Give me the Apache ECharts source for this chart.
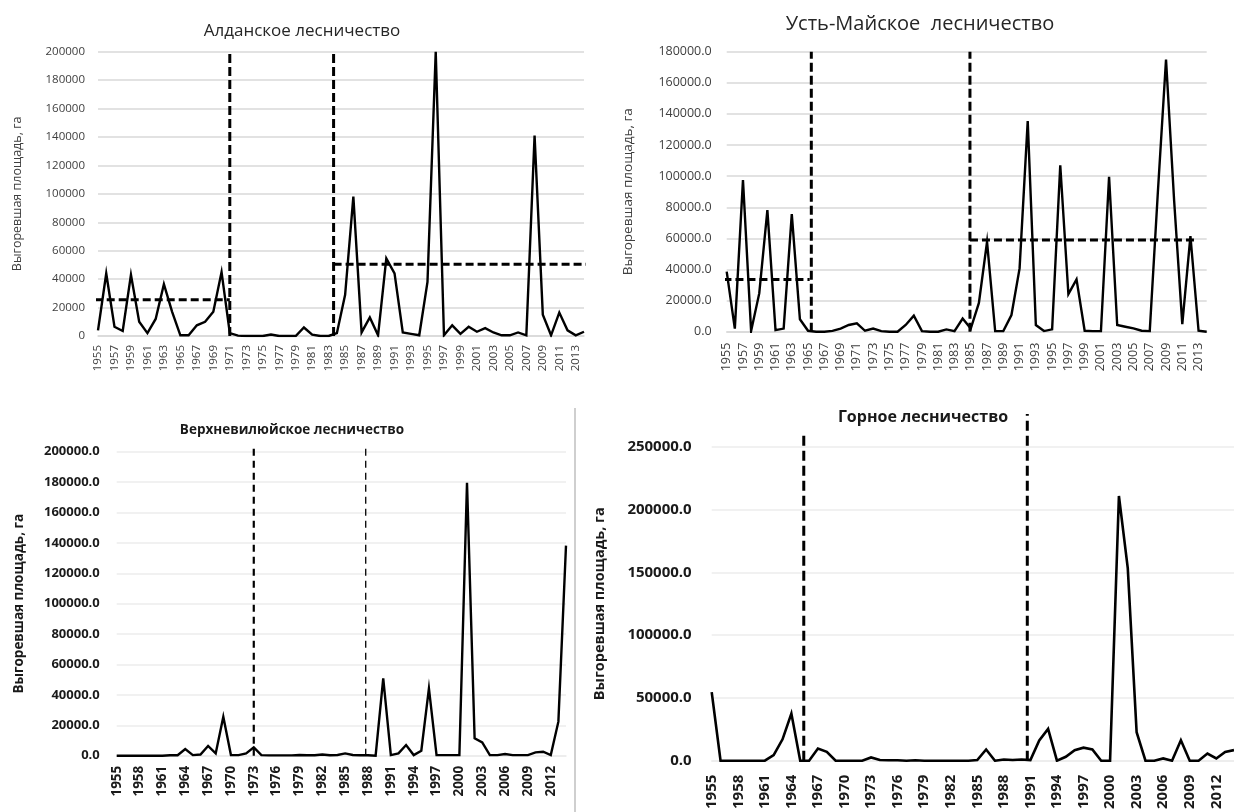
<!DOCTYPE html>
<html>
<head>
<meta charset="utf-8">
<script src="https://cdn.jsdelivr.net/npm/echarts@6/dist/echarts.min.js"></script>
<style>
  html, body { margin: 0; padding: 0; background: #ffffff; }
  #chart { width: 1234px; height: 812px; }
</style>
</head>
<body>
<div id="chart"></div>
<script>
// Years shared by all four forestries
const years = [
  '1955','1956','1957','1958','1959','1960','1961','1962','1963','1964',
  '1965','1966','1967','1968','1969','1970','1971','1972','1973','1974',
  '1975','1976','1977','1978','1979','1980','1981','1982','1983','1984',
  '1985','1986','1987','1988','1989','1990','1991','1992','1993','1994',
  '1995','1996','1997','1998','1999','2000','2001','2002','2003','2004',
  '2005','2006','2007','2008','2009','2010','2011','2012','2013','2014'
];

// Burned area, ha
const aldan = [
  4000, 44000, 6500, 3500, 43000, 10000, 2000, 12000, 36500, 17000,
  500, 500, 7500, 10000, 17000, 45000, 2000, 300, 0, 0,
  0, 1000, 0, 0, 0, 6000, 1000, 0, 0, 2000,
  29000, 98000, 2500, 13000, 500, 54600, 44000, 2500, 1500, 500,
  38000, 200000, 500, 7500, 1500, 6500, 3000, 5500, 2500, 500,
  500, 2500, 500, 141000, 15000, 500, 16500, 4000, 500, 3000
];
const ustMaya = [
  38600, 2000, 97500, 500, 24600, 78200, 1000, 2000, 75600, 8000,
  600, 0, 0, 500, 2000, 4300, 5400, 600, 2000, 400,
  0, 0, 4300, 10300, 400, 0, 0, 1500, 400, 8500,
  2000, 18500, 57800, 400, 400, 10700, 40700, 135400, 4300, 400,
  1500, 107000, 24200, 33600, 600, 400, 400, 99600, 4300, 3200,
  2100, 600, 400, 90000, 175000, 84000, 4900, 61500, 600, 0
];
const verkhneviluy = [
  0, 0, 0, 0, 0, 0, 0, 300, 300, 4400,
  400, 800, 6400, 1500, 25600, 400, 400, 1500, 5500, 400,
  200, 200, 200, 200, 500, 300, 300, 800, 300, 500,
  1500, 500, 300, 300, 0, 50900, 400, 1500, 7000, 400,
  3300, 44300, 400, 400, 400, 400, 179600, 11400, 8800, 400,
  400, 1100, 400, 400, 400, 2200, 2600, 400, 22400, 138200
];
const gornoe = [
  54600, 0, 0, 0, 0, 0, 0, 4400, 17000, 37600,
  0, 0, 9700, 7000, 0, 0, 0, 0, 2600, 500,
  300, 300, 0, 300, 0, 0, 0, 0, 0, 0,
  500, 8900, 0, 1000, 500, 1000, 500, 16200, 25300, 0,
  3100, 8400, 10400, 8900, 0, 0, 210800, 153300, 22700, 0,
  0, 1800, 0, 16200, 0, 0, 5700, 1800, 7000, 8400
];

// Period boundaries (year, upper end of the marker in ha)
const aldanBreaks = [[1971, 200000], [1983.6, 200000]];
const ustMayaBreaks = [[1965.4, 180000], [1984.9, 180000]];
const verkhBreaks = [[1973, 203000], [1987.7, 203000]];
const gornoeBreaks = [[1965.4, 259000], [1990.65, 276000]];

// Period means: [from year, to year, mean ha]
const aldanMeans = [[1954.6, 1971, 25500], [1983.6, 2015.1, 50500]];
const ustMayaMeans = [[1954.6, 1965.2, 33600], [1984.9, 2012.8, 58900]];

// Value axis ranges: [max, step]
const aldanAxis = [200000, 20000];
const ustMayaAxis = [180000, 20000];
const verkhAxis = [200000, 20000];
const gornoeAxis = [250000, 50000];

const FONT = 'Open Sans';
const chart = echarts.init(document.getElementById('chart'), null, { renderer: 'canvas' });

const panels = [
  { grid: { left: 98, top: 51.7, width: 486, height: 284.3 },
    data: aldan, breaks: aldanBreaks, means: aldanMeans, axis: aldanAxis,
    decimals: 0, bold: false, yFont: 11.5, xFont: 11.5, labelEvery: 1,
    gridColor: '#d9d9d9', yMargin: 13, xMargin: 9, nameGap: 74, nameFont: 12.5,
    lineW: 2.4, breakW: 3, breakDash: [9, 4], breakW2: 3, meanW: 3, meanDash: [8, 4],
    textColor: '#404040' },
  { grid: { left: 726.7, top: 51.7, width: 480, height: 280 },
    data: ustMaya, breaks: ustMayaBreaks, means: ustMayaMeans, axis: ustMayaAxis,
    decimals: 1, bold: false, yFont: 12.5, xFont: 12.5, labelEvery: 1,
    gridColor: '#d9d9d9', yMargin: 15, xMargin: 11, nameGap: 92, nameFont: 13.5,
    lineW: 2.4, breakW: 3, breakDash: [9, 4], breakW2: 3, meanW: 3, meanDash: [8, 4],
    textColor: '#404040' },
  { grid: { left: 116.7, top: 451.7, width: 449.3, height: 304 },
    data: verkhneviluy, breaks: verkhBreaks, means: [], axis: verkhAxis,
    decimals: 1, bold: true, yFont: 13, xFont: 13.5, labelEvery: 2,
    gridColor: '#ececec', yMargin: 17, xMargin: 10, nameGap: 91, nameFont: 13.5,
    lineW: 2.4, breakW: 2.2, breakDash: [7, 5], breakW2: 1.3, meanW: 2, meanDash: [7, 5],
    textColor: '#1a1a1a' },
  { grid: { left: 711.7, top: 446.7, width: 525.1, height: 319 },
    data: gornoe, breaks: gornoeBreaks, means: [], axis: gornoeAxis,
    decimals: 1, bold: true, yFont: 15, xFont: 15, labelEvery: 2,
    gridColor: '#ececec', yMargin: 20, xMargin: 14, nameGap: 104, nameFont: 14.5,
    lineW: 2.6, breakW: 3, breakDash: [10, 5], breakW2: 3, meanW: 3, meanDash: [10, 5],
    textColor: '#1a1a1a' }
];

const grids = [], xAxes = [], yAxes = [], series = [];

panels.forEach((p, i) => {
  grids.push(Object.assign({ containLabel: false }, p.grid));

  // category axis with year labels
  xAxes.push({
    type: 'category', gridIndex: i, data: years, boundaryGap: false,
    axisLine: { show: true, lineStyle: { color: p.gridColor, width: 1.5 } },
    axisTick: { show: false },
    axisLabel: {
      interval: p.labelEvery, rotate: 90, margin: p.xMargin,
      fontFamily: FONT, fontSize: p.xFont, color: p.textColor,
      fontWeight: p.bold ? 'bold' : 'normal'
    },
    splitLine: { show: false }
  });

  yAxes.push({
    type: 'value', gridIndex: i, min: 0, max: p.axis[0], interval: p.axis[1],
    name: 'Выгоревшая площадь, га', nameLocation: 'middle', nameGap: p.nameGap,
    nameTextStyle: {
      fontFamily: FONT, fontSize: p.nameFont, color: p.textColor,
      fontWeight: p.bold ? 'bold' : 'normal'
    },
    axisLine: { show: false }, axisTick: { show: false },
    axisLabel: {
      margin: p.yMargin, fontFamily: FONT, fontSize: p.yFont, color: p.textColor,
      fontWeight: p.bold ? 'bold' : 'normal',
      formatter: v => v.toFixed(p.decimals)
    },
    splitLine: { lineStyle: { color: p.gridColor, width: 1.5 } }
  });

  series.push({
    type: 'line', xAxisIndex: i, yAxisIndex: i, data: p.data,
    symbol: 'none', silent: true,
    lineStyle: { color: '#000000', width: p.lineW, join: 'miter', cap: 'butt' },
    z: 3
  });
});

// hidden numeric year axes for the dashed period markers
panels.forEach((p, i) => {
  xAxes.push({ type: 'value', gridIndex: i, min: 1955, max: 2014, show: false });
  const xi = panels.length + i;
  p.breaks.forEach((b, k) => {
    series.push({
      type: 'line', xAxisIndex: xi, yAxisIndex: i, clip: false, symbol: 'none', silent: true,
      data: [[b[0], 0], [b[0], b[1]]],
      lineStyle: { color: '#000000', width: k === 0 ? p.breakW : p.breakW2, type: p.breakDash, cap: 'butt' },
      z: 4
    });
  });
  p.means.forEach(m => {
    series.push({
      type: 'line', xAxisIndex: xi, yAxisIndex: i, clip: false, symbol: 'none', silent: true,
      data: [[m[0], m[2]], [m[1], m[2]]],
      lineStyle: { color: '#000000', width: p.meanW, type: p.meanDash, cap: 'butt' },
      z: 4
    });
  });
});

const option = {
  animation: false,
  backgroundColor: '#ffffff',
  title: [
    { text: 'Алданское лесничество', left: 297, top: 18, textAlign: 'center',
      textStyle: { fontFamily: FONT, fontSize: 17, fontWeight: 'normal', color: '#262626' } },
    { text: 'Усть-Майское  лесничество', left: 915, top: 9, textAlign: 'center',
      textStyle: { fontFamily: FONT, fontSize: 20, fontWeight: 'normal', color: '#262626' } },
    { text: 'Верхневилюйское лесничество', left: 287, top: 418, textAlign: 'center',
      textStyle: { fontFamily: FONT, fontSize: 13.5, fontWeight: 'bold', color: '#1a1a1a' } },
    { text: 'Горное лесничество', left: 918, top: 404, textAlign: 'center',
      textStyle: { fontFamily: FONT, fontSize: 16, fontWeight: 'bold', color: '#1a1a1a' } }
  ],
  graphic: [
    { type: 'line', shape: { x1: 575, y1: 408, x2: 575, y2: 812 },
      style: { stroke: '#bfbfbf', lineWidth: 1.5 }, silent: true }
  ],
  grid: grids,
  xAxis: xAxes,
  yAxis: yAxes,
  series: series
};

chart.setOption(option);
</script>
</body>
</html>
